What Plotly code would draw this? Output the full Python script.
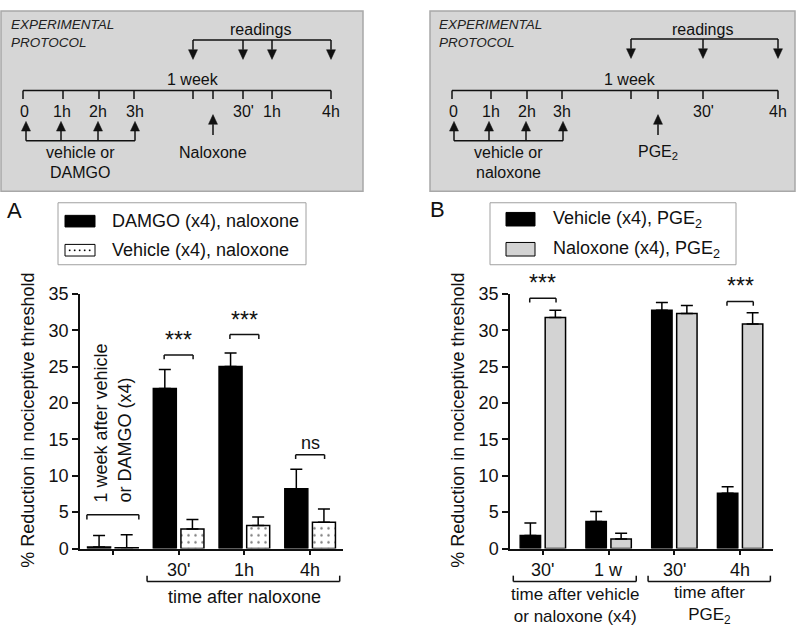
import plotly.graph_objects as go

W, H = 800, 637
FONT = "Arial, Liberation Sans, sans-serif"
INK = "#111111"

# ---------------- data ----------------
# Panel A
a_groups = [0, 1, 2, 3]
a_ticktext = ["", "30'", "1h", "4h"]
a_damgo = [0.2, 22.0, 25.0, 8.2]
a_damgo_err = [1.6, 2.6, 1.85, 2.7]
a_vehicle = [0.1, 2.7, 3.15, 3.6]
a_vehicle_err = [1.8, 1.3, 1.2, 1.85]
a_sig = ["", "***", "***", "ns"]
a_sig_y = [None, 26.6, 29.4, 12.9]

# Panel B
b_groups = [0, 1, 2, 3]
b_ticktext = ["30'", "1 w", "30'", "4h"]
b_vehicle = [1.8, 3.7, 32.75, 7.6]
b_vehicle_err = [1.7, 1.4, 1.05, 0.9]
b_nalox = [31.75, 1.3, 32.3, 30.85]
b_nalox_err = [1.0, 0.8, 1.1, 1.55]
b_sig = ["***", "", "", "***"]
b_sig_y = [34.4, None, None, 33.95]

y_ticks = [0, 5, 10, 15, 20, 25, 30, 35]

# protocol timelines
protoA_labels = ["0", "1h", "2h", "3h", "30'", "1h", "4h"]
protoB_labels = ["0", "1h", "2h", "3h", "30'", "4h"]

# ---------------- helpers ----------------
def X(px):
    return px / W

def Y(py):
    return 1 - py / H

shapes = []
annotations = []

def pline(x0, y0, x1, y1, color=INK, width=1.5):
    shapes.append(dict(type="line", xref="paper", yref="paper",
                       x0=X(x0), y0=Y(y0), x1=X(x1), y1=Y(y1),
                       line=dict(color=color, width=width)))

def prect(x0, y0, x1, y1, fill, line_color, lw=1.0):
    shapes.append(dict(type="rect", xref="paper", yref="paper",
                       x0=X(x0), y0=Y(y0), x1=X(x1), y1=Y(y1),
                       fillcolor=fill, line=dict(color=line_color, width=lw),
                       layer="below"))

def arrow(x, ytail, ytip, hl=10, hw=4.5):
    d = 1 if ytip > ytail else -1
    pline(x, ytail, x, ytip - d * hl)
    path = "M {:.5f},{:.5f} L {:.5f},{:.5f} L {:.5f},{:.5f} Z".format(
        X(x - hw), Y(ytip - d * hl), X(x + hw), Y(ytip - d * hl), X(x), Y(ytip))
    shapes.append(dict(type="path", xref="paper", yref="paper", path=path,
                       fillcolor=INK, line=dict(color=INK, width=0.5)))

def ptext(x, y, text, size=16, xanchor="center", italic=False, color=INK):
    annotations.append(dict(xref="paper", yref="paper", x=X(x), y=Y(y),
                            text=text, showarrow=False, xanchor=xanchor,
                            yanchor="middle",
                            font=dict(family=FONT, size=size, color=color,
                                      style="italic" if italic else "normal")))

# ---------------- protocol box A ----------------
prect(1, 1, 363, 187, "#d6d6d6", "#a8a8a8", 1.5)
ptext(9, 15, "EXPERIMENTAL", 13.5, "left", italic=True, color="#222")
ptext(9, 34, "PROTOCOL", 13.5, "left", italic=True, color="#222")
ptext(260, 20, "readings")
pline(193, 31, 331, 31)
for xx in [193, 243, 272, 331]:
    arrow(xx, 31, 51)
ptext(193, 72, "1 week")
pline(23, 83, 331, 83)
for xx in [23, 63, 99, 134, 193, 213, 243, 272, 331]:
    pline(xx, 83, xx, 92)
for xx, lab in zip([24, 62, 98, 135, 243, 272, 331], protoA_labels):
    ptext(xx, 105, lab)
pline(26, 135, 135, 135)
for xx in [26, 61, 98, 135]:
    arrow(xx, 135, 115)
arrow(213, 129, 108)
ptext(80, 147, "vehicle or")
ptext(80, 168, "DAMGO")
ptext(213, 147, "Naloxone")

# ---------------- protocol box B ----------------
prect(430, 1, 795, 187, "#d6d6d6", "#a8a8a8", 1.5)
ptext(437, 15, "EXPERIMENTAL", 13.5, "left", italic=True, color="#222")
ptext(437, 34, "PROTOCOL", 13.5, "left", italic=True, color="#222")
ptext(702, 20, "readings")
pline(631, 30, 778, 30)
for xx in [631, 703, 778]:
    arrow(xx, 30, 50)
ptext(630, 72, "1 week")
pline(452, 83, 778, 83)
for xx in [452, 491, 527, 562, 631, 658, 703, 778]:
    pline(xx, 83, xx, 92)
for xx, lab in zip([453, 491, 527, 562, 703, 778], protoB_labels):
    ptext(xx, 105, lab)
pline(454, 135, 563, 135)
for xx in [454, 489, 526, 563]:
    arrow(xx, 135, 115)
arrow(658, 129, 108)
ptext(508, 147, "vehicle or")
ptext(508, 168, "naloxone")
ptext(658, 147, "PGE<sub>2</sub>")

# ---------------- panel letters ----------------
ptext(14, 207, "A", 22)
ptext(437, 206, "B", 22)

# ---------------- legends (manual) ----------------
prect(58, 199, 306, 263, "white", "#a0a0a0", 1)
prect(65, 212, 95, 224, "black", "black", 1)
prect(65, 242, 95, 254, "white", "black", 1)
for dx in [69, 74, 79, 84, 89]:
    prect(dx, 247.5, dx + 1.3, 248.8, "black", "black", 0.3)
ptext(110, 218, "DAMGO (x4), naloxone", 18, "left")
ptext(110, 248, "Vehicle (x4), naloxone", 18, "left")

prect(490, 199, 736, 263, "white", "#a0a0a0", 1)
prect(506, 209, 535, 223, "black", "black", 1)
prect(506, 240, 535, 254, "#d3d3d3", "black", 1)
ptext(551, 216, "Vehicle (x4), PGE<sub>2</sub>", 18, "left")
ptext(551, 247, "Naloxone (x4), PGE<sub>2</sub>", 18, "left")

# ---------------- y-axis titles ----------------
for xc in [28, 458]:
    annotations.append(dict(xref="paper", yref="paper", x=X(xc), y=Y(424),
                            text="% Reduction in nociceptive threshold",
                            textangle=-90, showarrow=False,
                            xanchor="center", yanchor="middle",
                            font=dict(family=FONT, size=18, color=INK)))

# ---------------- bars ----------------
fig = go.Figure()
err_style = dict(type="data", symmetric=False, color="black", thickness=1.5, width=6)

fig.add_trace(go.Bar(
    x=a_groups, y=a_damgo, name="DAMGO (x4), naloxone",
    width=0.35, offset=-0.385, xaxis="x", yaxis="y",
    marker=dict(color="black", line=dict(color="black", width=1.5)),
    error_y=dict(array=a_damgo_err, arrayminus=[0] * 4, **err_style),
    showlegend=False))
fig.add_trace(go.Bar(
    x=a_groups, y=a_vehicle, name="Vehicle (x4), naloxone",
    width=0.35, offset=0.035, xaxis="x", yaxis="y",
    marker=dict(color="white", line=dict(color="black", width=1.5),
                pattern=dict(shape=".", fgcolor="black", bgcolor="white",
                             size=7, solidity=0.1)),
    error_y=dict(array=a_vehicle_err, arrayminus=[0] * 4, **err_style),
    showlegend=False))
fig.add_trace(go.Bar(
    x=b_groups, y=b_vehicle, name="Vehicle (x4), PGE2",
    width=0.31, offset=-0.345, xaxis="x2", yaxis="y2",
    marker=dict(color="black", line=dict(color="black", width=1.5)),
    error_y=dict(array=b_vehicle_err, arrayminus=[0] * 4, **err_style),
    showlegend=False))
fig.add_trace(go.Bar(
    x=b_groups, y=b_nalox, name="Naloxone (x4), PGE2",
    width=0.31, offset=0.035, xaxis="x2", yaxis="y2",
    marker=dict(color="#d3d3d3", line=dict(color="black", width=1.5)),
    error_y=dict(array=b_nalox_err, arrayminus=[0] * 4, **err_style),
    showlegend=False))

# ---------------- significance brackets ----------------
def sig_brackets(xref, yref, groups, labels, ys, half, size_map):
    for g, lab, yy in zip(groups, labels, ys):
        if not lab:
            continue
        shapes.append(dict(type="line", xref=xref, yref=yref,
                           x0=g - half, x1=g + half, y0=yy, y1=yy,
                           line=dict(color=INK, width=1.5)))
        for xx in (g - half, g + half):
            shapes.append(dict(type="line", xref=xref, yref=yref,
                               x0=xx, x1=xx, y0=yy, y1=yy - 0.6,
                               line=dict(color=INK, width=1.5)))
        annotations.append(dict(xref=xref, yref=yref, x=g, y=yy, text=lab,
                                showarrow=False, xanchor="center",
                                yanchor="bottom",
                                font=dict(family=FONT, size=size_map[lab], color=INK)))

sig_brackets("x", "y", a_groups, a_sig, a_sig_y, 0.22, {"***": 23, "ns": 18})
sig_brackets("x2", "y2", b_groups, b_sig, b_sig_y, 0.20, {"***": 23, "ns": 18})

# baseline bracket + rotated label in panel A
shapes.append(dict(type="line", xref="x", yref="y", x0=-0.395, x1=0.395,
                   y0=4.65, y1=4.65, line=dict(color=INK, width=1.5)))
for xx in (-0.395, 0.395):
    shapes.append(dict(type="line", xref="x", yref="y", x0=xx, x1=xx,
                       y0=4.65, y1=4.0, line=dict(color=INK, width=1.5)))
annotations.append(dict(xref="x", yref="y", x=0, y=6.1,
                        text="1 week after vehicle<br>or DAMGO (x4)",
                        textangle=-90, align="left", showarrow=False,
                        xanchor="center", yanchor="bottom",
                        font=dict(family=FONT, size=18, color=INK)))

# x tick labels (category names) just below each axis
for xref, groups, labels in [("x", a_groups, a_ticktext), ("x2", b_groups, b_ticktext)]:
    for g, lab in zip(groups, labels):
        if lab:
            annotations.append(dict(xref=xref, yref="paper", x=g, y=Y(578),
                                    text=lab, showarrow=False,
                                    xanchor="center", yanchor="middle",
                                    font=dict(family=FONT, size=18, color=INK)))

# group brackets under x axes
def under_bracket(xref, x0, x1, text, xc, yc, size):
    shapes.append(dict(type="line", xref=xref, yref="paper", x0=x0, x1=x1,
                       y0=Y(590), y1=Y(590), line=dict(color=INK, width=1.5)))
    for xx in (x0, x1):
        shapes.append(dict(type="line", xref=xref, yref="paper", x0=xx, x1=xx,
                           y0=Y(590), y1=Y(584), line=dict(color=INK, width=1.5)))
    annotations.append(dict(xref=xref, yref="paper", x=xc, y=Y(yc), text=text,
                            showarrow=False, xanchor="center", yanchor="middle",
                            align="center",
                            font=dict(family=FONT, size=size, color=INK)))

under_bracket("x", 0.52, 3.45, "time after naloxone", 2.0, 606, 18)
under_bracket("x2", -0.45, 1.42, "time after vehicle<br>or naloxone (x4)", 0.49, 614.5, 17)
under_bracket("x2", 1.6, 3.46, "time after<br>PGE<sub>2</sub>", 2.54, 614.5, 17)

# ---------------- axes ----------------
ydom = [Y(556), Y(293)]
xa = dict(range=[-0.5, 3.5], tickmode="array", tickvals=a_groups,
          ticks="outside", ticklen=5, tickwidth=1.5, tickcolor=INK,
          showline=True, linecolor=INK, linewidth=1.5, showgrid=False,
          zeroline=False, showticklabels=False, fixedrange=True)
ya = dict(range=[0, 35], tickmode="array", tickvals=y_ticks,
          ticks="outside", ticklen=6, tickwidth=1.5, tickcolor=INK,
          showline=True, linecolor=INK, linewidth=1.5, showgrid=False,
          zeroline=False, tickfont=dict(family=FONT, size=18, color=INK),
          domain=ydom, fixedrange=True)

fig.update_layout(
    width=W, height=H, margin=dict(l=0, r=0, t=0, b=0),
    paper_bgcolor="white", plot_bgcolor="white",
    barmode="overlay", showlegend=False,
    font=dict(family=FONT, color=INK),
    xaxis=dict(xa, domain=[X(80), X(343)], anchor="y"),
    yaxis=dict(ya, anchor="x"),
    xaxis2=dict(xa, domain=[X(510), X(773)], anchor="y2"),
    yaxis2=dict(ya, anchor="x2"),
    shapes=shapes, annotations=annotations,
)

fig.write_html(
    "out.html",
    config={"displayModeBar": False},
    post_script="document.body.style.margin='0';document.body.style.padding='0';"
                "document.documentElement.style.overflow='hidden';",
)
